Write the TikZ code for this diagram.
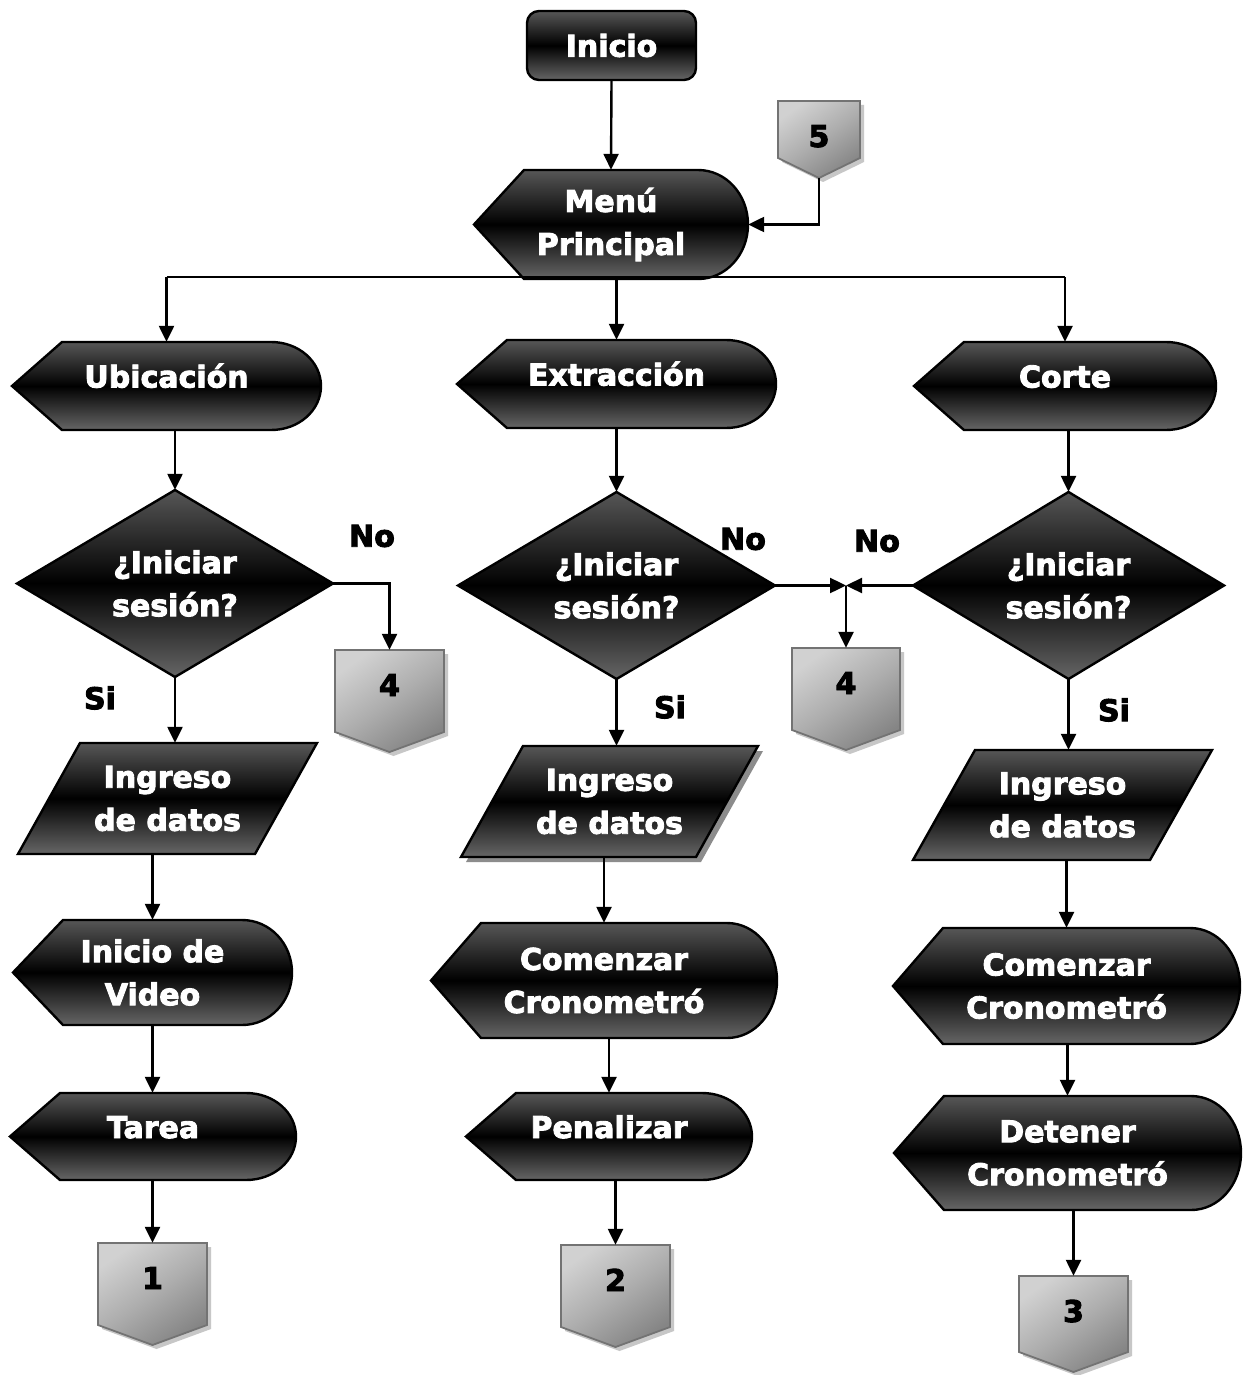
\documentclass[tikz,border=0pt]{standalone}
\usepackage{fontspec}
\setmainfont{DejaVu Sans}
\newfontfamily\heavyfont{DejaVu Sans Bold}[FakeBold=3]
\usetikzlibrary{arrows.meta,calc}
\tikzset{
  darkfill/.style={draw=black, line width=2.4pt, top color=black!66, bottom color=black!60, middle color=black},
  pagefill/.style={draw=black!55, line width=1.8pt, top color=black!18, bottom color=black!48, middle color=black!32, shading angle=35},
  pageshadow/.style={fill=black!22, draw=none},
  parshadow/.style={fill=black!45, draw=none},
  txt/.style={inner sep=0pt, text=white, font=\heavyfont\fontsize{30}{43}\selectfont, align=center},
  lbl/.style={inner sep=0pt, text=black, font=\heavyfont\fontsize{30}{43}\selectfont},
  num/.style={inner sep=0pt, text=black, font=\heavyfont\fontsize{30}{43}\selectfont, text height=22pt, text depth=32pt},
  arr/.style={line width=2.4pt, -{Triangle[length=16pt,width=15pt]}},
  ln/.style={line width=2.4pt},
}
% display shape: [opts]{name}{l}{t}{r}{b}{text}
\newcommand\DispNode[7][]{%
  \path[darkfill] (#3,{(#4+#6)/2}) -- ({#3+50},#4) -- ({#5-50},#4)
    .. controls ({#5-22},#4) and (#5,{(#4+#6)/2-0.55*(#6-#4)/2}) .. (#5,{(#4+#6)/2})
    .. controls (#5,{(#4+#6)/2+0.55*(#6-#4)/2}) and ({#5-22},#6) .. ({#5-50},#6)
    -- ({#3+50},#6) -- cycle;
  \node[txt, minimum width={(#5-#3)*1pt}, minimum height={(#6-#4)*1pt}, #1] (#2) at ({(#3+#5)/2},{(#4+#6)/2}) {#7};}
% diamond
\newcommand\DiaNode[7][]{%
  \path[darkfill] (#3,{(#4+#6)/2}) -- ({(#3+#5)/2},#4) -- (#5,{(#4+#6)/2}) -- ({(#3+#5)/2},#6) -- cycle;
  \node[txt, minimum width={(#5-#3)*1pt}, minimum height={(#6-#4)*1pt}, #1] (#2) at ({(#3+#5)/2},{(#4+#6)/2}) {#7};}
% parallelogram
\newcommand\ParNode[7][]{%
  \path[darkfill] ({#3+62},#4) -- (#5,#4) -- ({#5-62},#6) -- (#3,#6) -- cycle;
  \node[txt, minimum width={(#5-#3)*1pt}, minimum height={(#6-#4)*1pt}, #1] (#2) at ({(#3+#5)/2},{(#4+#6)/2}) {#7};}
% off-page connector
\newcommand\PageNode[7][]{%
  \begin{scope}[shift={(4,4)}]
    \path[pageshadow] (#3,#4) -- (#5,#4) -- (#5,{#6-20}) -- ({(#3+#5)/2},#6) -- (#3,{#6-20}) -- cycle;
  \end{scope}
  \path[pagefill] (#3,#4) -- (#5,#4) -- (#5,{#6-20}) -- ({(#3+#5)/2},#6) -- (#3,{#6-20}) -- cycle;
  \node[num, minimum width={(#5-#3)*1pt}, minimum height={(#6-#4)*1pt}, #1] (#2) at ({(#3+#5)/2},{(#4+#6)/2}) {#7};}

\begin{document}
\begin{tikzpicture}[x=1pt,y=-1pt]
\useasboundingbox (0,0) rectangle (1243,1375);
\fill[white] (0,0) rectangle (1243,1375);

% top
\path[darkfill, rounded corners=12pt] (527,11) rectangle (696,80);
\node[txt, minimum width=169pt, minimum height=69pt] (inicio) at (611.5,45.5) {Inicio};
\PageNode[text depth=7pt]{c5}{778}{101}{860}{178}{5}
\DispNode{menu}{474}{170}{748}{279}{Menú\\Principal}

% second row
\DispNode[text height=22pt, text depth=19pt]{ubic}{12}{342}{321}{430}{Ubicación}
\DispNode[text height=22pt, text depth=19pt]{extr}{457}{340}{776}{428}{Extracción}
\DispNode[text height=22pt, text depth=19pt]{corte}{914}{342}{1216}{430}{Corte}

% decisions
\DiaNode{d1}{17}{490}{333}{677}{¿Iniciar\\sesión?}
\DiaNode{d2}{458}{492}{775}{679}{¿Iniciar\\sesión?}
\DiaNode{d3}{913}{492}{1224}{679}{¿Iniciar\\sesión?}

\PageNode{c4a}{335}{650}{444}{752}{4}
\PageNode{c4b}{792}{648}{900}{750}{4}

% input
\ParNode{p1}{18}{743}{317}{854}{Ingreso\\de datos}
\begin{scope}[shift={(5,5)}]
  \path[parshadow] ({461+62},746) -- (758,746) -- ({758-62},857) -- (461,857) -- cycle;
\end{scope}
\ParNode{p2}{461}{746}{758}{857}{Ingreso\\de datos}
\ParNode{p3}{913}{750}{1212}{860}{Ingreso\\de datos}

% left column
\DispNode{vid}{13}{920}{292}{1025}{Inicio de\\Video}
\DispNode[text height=22pt, text depth=19pt]{tarea}{10}{1093}{296}{1180}{Tarea}
\PageNode{c1}{98}{1243}{207}{1345}{1}

% middle column
\DispNode{com2}{431}{923}{777}{1038}{Comenzar\\Cronometró}
\DispNode[text height=22pt, text depth=19pt]{pen}{466}{1093}{752}{1180}{Penalizar}
\PageNode{c2}{561}{1245}{670}{1347}{2}

% right column
\DispNode{com3}{893}{928}{1240}{1044}{Comenzar\\Cronometró}
\DispNode{det}{894}{1096}{1241}{1210}{Detener\\Cronometró}
\PageNode[text depth=26pt]{c3}{1019}{1276}{1128}{1372}{3}

% labels
\node[lbl] (no1) at (372,536) {No};
\node[lbl] (no2) at (743,539) {No};
\node[lbl] (no3) at (877,541) {No};
\node[lbl] (si1) at (100,698) {Si};
\node[lbl] (si2) at (670,707) {Si};
\node[lbl] (si3) at (1114,710) {Si};

% connectors
\draw[arr] (inicio.south) -- (menu.north);
\draw[arr] (c5.south) |- (menu.east);
\coordinate (split) at (617,277);
\draw[ln] (menu.south -| split) -- (split);
\draw[ln] (split -| ubic.north) -- (split -| corte.north);
\draw[arr] (split -| ubic.north) -- (ubic.north);
\draw[arr] (split -| extr.north) -- (extr.north);
\draw[arr] (split -| corte.north) -- (corte.north);

\draw[arr] (ubic.south -| d1.north) -- (d1.north);
\draw[arr] (extr.south -| d2.north) -- (d2.north);
\draw[arr] (corte.south -| d3.north) -- (d3.north);

\draw[arr] (d1.east) -| (c4a.north);
\coordinate (j4) at (c4b.north |- d2.east);
\draw[arr] (d2.east) -- (j4);
\draw[arr] (d3.west) -- (j4);
\draw[arr] (j4) -- (c4b.north);

\draw[arr] (d1.south) -- (d1.south |- p1.north);
\draw[arr] (d2.south) -- (d2.south |- p2.north);
\draw[arr] (d3.south) -- (d3.south |- p3.north);

\draw[arr] (p1.south -| vid.north) -- (vid.north);
\draw[arr] (vid.south) -- (vid.south |- tarea.north);
\draw[arr] (tarea.south -| c1.north) -- (c1.north);

\draw[arr] (p2.south -| com2.north) -- (com2.north);
\draw[arr] (com2.south -| pen.north) -- (pen.north);
\draw[arr] (pen.south -| c2.north) -- (c2.north);

\draw[arr] (p3.south -| com3.north) -- (com3.north);
\draw[arr] (com3.south -| det.north) -- (det.north);
\draw[arr] (det.south -| c3.north) -- (c3.north);
\end{tikzpicture}
\end{document}
